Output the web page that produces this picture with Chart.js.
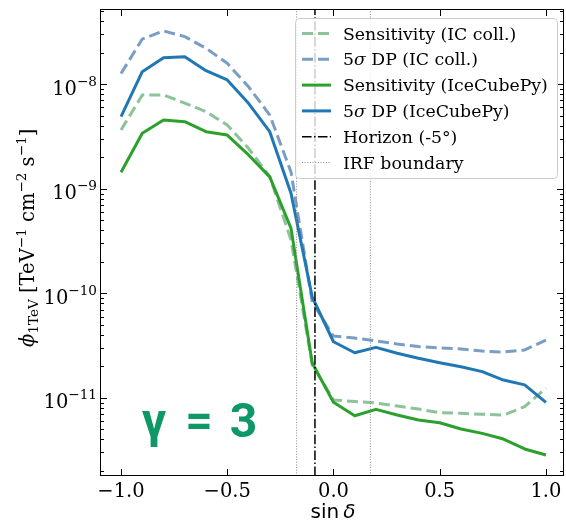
<!DOCTYPE html>
<html>
<head>
<meta charset="utf-8">
<script src="https://cdn.jsdelivr.net/npm/chart.js@4.4.0/dist/chart.umd.min.js"></script>
<style>
  html, body { margin: 0; padding: 0; background: #fff; }
  #wrap { width: 566px; height: 522px; }
</style>
</head>
<body>
<div id="wrap"><canvas id="c" width="566" height="522"></canvas></div>
<script>
// sin(dec) grid
const sinDec = [-1.0, -0.9, -0.8, -0.7, -0.6, -0.5, -0.4, -0.3, -0.2, -0.1, 0.0,
                0.1, 0.2, 0.3, 0.4, 0.5, 0.6, 0.7, 0.8, 0.9, 1.0];
// flux values [TeV^-1 cm^-2 s^-1]
const sensIC = [3.65e-9, 7.90e-9, 7.90e-9, 6.62e-9, 5.47e-9, 4.08e-9, 2.44e-9, 1.31e-9, 3.24e-10, 2.06e-11, 9.53e-12,
                9.22e-12, 8.92e-12, 8.35e-12, 7.81e-12, 7.20e-12, 7.11e-12, 6.96e-12, 6.85e-12, 8.22e-12, 1.24e-11];
const dpIC   = [1.27e-8, 2.71e-8, 3.24e-8, 2.86e-8, 2.21e-8, 1.59e-8, 9.48e-9, 5.08e-9, 1.45e-9, 8.25e-11, 3.90e-11,
                3.73e-11, 3.50e-11, 3.27e-11, 3.10e-11, 3.00e-11, 2.93e-11, 2.80e-11, 2.74e-11, 2.87e-11, 3.57e-11];
const sensPy = [1.44e-9, 3.40e-9, 4.55e-9, 4.39e-9, 3.52e-9, 3.27e-9, 2.11e-9, 1.30e-9, 4.19e-10, 2.15e-11, 9.06e-12,
                6.74e-12, 7.76e-12, 6.85e-12, 6.13e-12, 5.78e-12, 5.03e-12, 4.57e-12, 4.03e-12, 3.24e-12, 2.84e-12];
const dpPy   = [4.90e-9, 1.32e-8, 1.80e-8, 1.84e-8, 1.35e-8, 1.10e-8, 6.58e-9, 3.52e-9, 9.06e-10, 9.22e-11, 3.44e-11,
                2.70e-11, 3.04e-11, 2.67e-11, 2.39e-11, 2.17e-11, 1.98e-11, 1.78e-11, 1.48e-11, 1.33e-11, 9.06e-12];

const horizonX = -0.0872;          // sin(-5 deg)
const irfX = [-0.1736, 0.1736];    // IRF boundaries

const xTicks = [-1.0, -0.5, 0.0, 0.5, 1.0];
const xTickLabels = ["\u22121.0", "\u22120.5", "0.0", "0.5", "1.0"];
const yTickExp = [-11, -10, -9, -8];

const X_MIN = -1.099, X_MAX = 1.085;
const Y_MIN = 1.786e-12, Y_MAX = 5.256e-8;

const SERIF = "'DejaVu Serif'";
const SANS = "'DejaVu Sans'";

const pts = arr => sinDec.map((x, i) => ({ x: x, y: arr[i] }));
const vline = x => [{ x: x, y: Y_MIN }, { x: x, y: Y_MAX }];

const legendItems = [
    { label: "Sensitivity (IC coll.)", color: "rgb(141,195,152)", width: 3, dash: [11, 5] },
    { label: "5\u03c3 DP (IC coll.)", color: "rgb(122,157,198)", width: 3, dash: [11, 5], sigma: true },
    { label: "Sensitivity (IceCubePy)", color: "#2ca02c", width: 3, dash: [] },
    { label: "5\u03c3 DP (IceCubePy)", color: "#1f77b4", width: 3, dash: [], sigma: true },
    { label: "Horizon (-5\u00b0)", color: "#000", width: 1.5, dash: [9.6, 2.4, 1.5, 2.4] },
    { label: "IRF boundary", color: "#888", width: 1, dash: [1, 1.65] }
];

// draws pieces of text one after another on the same baseline
function richText(ctx, x, y, parts, align) {
    let w = 0;
    parts.forEach(p => { ctx.font = p.f; p.w = ctx.measureText(p.t).width; w += p.w; });
    let cx = align === "right" ? x - w : (align === "center" ? x - w / 2 : x);
    ctx.textAlign = "left";
    parts.forEach(p => { ctx.font = p.f; ctx.fillText(p.t, cx, y + (p.dy || 0)); cx += p.w; });
    return w;
}

const decor = {
    id: "decor",
    afterDraw(chart) {
        const ctx = chart.ctx;
        const a = chart.chartArea;
        const xs = chart.scales.x, ys = chart.scales.y;
        ctx.save();

        // frame
        ctx.strokeStyle = "#000";
        ctx.lineWidth = 1;
        ctx.setLineDash([]);
        ctx.strokeRect(a.left + 0.5, a.top + 0.5, a.right - a.left - 1, a.bottom - a.top - 1);

        // x ticks (inward, bottom + top)
        ctx.beginPath();
        xTicks.forEach(v => {
            const px = Math.round(xs.getPixelForValue(v)) + 0.5;
            ctx.moveTo(px, a.bottom); ctx.lineTo(px, a.bottom - 7);
            ctx.moveTo(px, a.top); ctx.lineTo(px, a.top + 7);
        });
        // y ticks major + minor (inward, left + right)
        for (let e = -12; e <= -8; e++) {
            for (let k = 1; k <= 9; k++) {
                const v = k * Math.pow(10, e);
                if (v < Y_MIN || v > Y_MAX) continue;
                const py = Math.round(ys.getPixelForValue(v)) + 0.5;
                const len = k === 1 ? 7 : 4;
                ctx.moveTo(a.left, py); ctx.lineTo(a.left + len, py);
                ctx.moveTo(a.right, py); ctx.lineTo(a.right - len, py);
            }
        }
        ctx.stroke();

        // tick labels
        ctx.fillStyle = "#000";
        ctx.textBaseline = "alphabetic";
        xTicks.forEach((v, i) => {
            richText(ctx, xs.getPixelForValue(v), 497, [{ t: xTickLabels[i], f: "19.5px " + SERIF }], "center");
        });
        yTickExp.forEach(e => {
            const py = ys.getPixelForValue(Math.pow(10, e));
            richText(ctx, 97, py + 10.5, [
                { t: "10", f: "19.5px " + SERIF },
                { t: "\u2212" + (-e), f: "13.6px " + SERIF, dy: -9 }
            ], "right");
        });

        // x title
        richText(ctx, 333, 518, [
            { t: "sin", f: "20px " + SANS },
            { t: "\u2009", f: "20px " + SANS },
            { t: "\u03b4", f: "italic 20px " + SANS }
        ], "center");

        // y title (rotated)
        ctx.save();
        ctx.translate(33.5, 347);
        ctx.rotate(-Math.PI / 2);
        const big = "19.5px " + SERIF, small = "13.6px " + SERIF;
        richText(ctx, 0, 0, [
            { t: "\u03d5", f: "italic " + big },
            { t: "1TeV", f: small, dy: 4 },
            { t: " [TeV", f: big },
            { t: "\u22121", f: small, dy: -8 },
            { t: " cm", f: big },
            { t: "\u22122", f: small, dy: -8 },
            { t: " s", f: big },
            { t: "\u22121", f: small, dy: -8 },
            { t: "]", f: big }
        ], "left");
        ctx.restore();

        // legend
        const lx = 295, ly = 18, lw = 262, lh = 160;
        ctx.beginPath();
        ctx.roundRect(lx + 0.5, ly + 0.5, lw, lh, 4);
        ctx.fillStyle = "rgba(255,255,255,0.8)";
        ctx.fill();
        ctx.strokeStyle = "#ccc";
        ctx.lineWidth = 1;
        ctx.stroke();
        legendItems.forEach((it, i) => {
            const ry = 33.5 + i * 25.8;
            ctx.beginPath();
            ctx.strokeStyle = it.color;
            ctx.lineWidth = it.width;
            ctx.setLineDash(it.dash);
            ctx.moveTo(302, ry); ctx.lineTo(331, ry);
            ctx.stroke();
            ctx.setLineDash([]);
            ctx.fillStyle = "#000";
            if (it.sigma) {
                richText(ctx, 343, ry + 6, [
                    { t: "5", f: "17.3px " + SERIF },
                    { t: "\u03c3", f: "italic 17.3px " + SERIF },
                    { t: it.label.slice(2), f: "17.3px " + SERIF }
                ], "left");
            } else {
                richText(ctx, 343, ry + 6, [{ t: it.label, f: "17.3px " + SERIF }], "left");
            }
        });

        // gamma label
        ctx.fillStyle = "#0d9866";
        ctx.font = "bold 48px Roboto";
        ctx.textAlign = "center";
        ctx.fillText("\u03b3", 154, 437);
        ctx.fillText("=", 199, 437);
        ctx.fillText("3", 243.5, 437);

        ctx.restore();
    }
};

new Chart(document.getElementById("c"), {
    type: "line",
    data: {
        datasets: [
            { data: vline(horizonX), borderColor: "#000", borderWidth: 1.5, borderDash: [9.6, 2.4, 1.5, 2.4], order: 0 },
            { data: vline(irfX[0]), borderColor: "#888", borderWidth: 1, borderDash: [1, 1.65], order: 0 },
            { data: vline(irfX[1]), borderColor: "#888", borderWidth: 1, borderDash: [1, 1.65], order: 0 },
            { label: "5\u03c3 DP (IceCubePy)", data: pts(dpPy), borderColor: "#1f77b4", borderWidth: 3, order: 1 },
            { label: "Sensitivity (IceCubePy)", data: pts(sensPy), borderColor: "#2ca02c", borderWidth: 3, order: 2 },
            { label: "5\u03c3 DP (IC coll.)", data: pts(dpIC), borderColor: "rgb(122,157,198)", borderWidth: 3, borderDash: [11, 5], order: 3 },
            { label: "Sensitivity (IC coll.)", data: pts(sensIC), borderColor: "rgb(141,195,152)", borderWidth: 3, borderDash: [11, 5], order: 4 }
        ]
    },
    options: {
        responsive: false,
        animation: false,
        devicePixelRatio: 1,
        layout: { padding: { left: 100, right: 2, top: 9, bottom: 46 } },
        elements: {
            point: { radius: 0 },
            line: { tension: 0, fill: false, borderJoinStyle: "round", borderCapStyle: "butt" }
        },
        plugins: { legend: { display: false }, tooltip: { enabled: false } },
        scales: {
            x: {
                type: "linear", min: X_MIN, max: X_MAX,
                ticks: { display: false }, grid: { display: false }, border: { display: false },
                afterFit: s => { s.height = 0; }
            },
            y: {
                type: "logarithmic", min: Y_MIN, max: Y_MAX,
                ticks: { display: false }, grid: { display: false }, border: { display: false },
                afterFit: s => { s.width = 0; }
            }
        }
    },
    plugins: [decor]
});
</script>
</body>
</html>
